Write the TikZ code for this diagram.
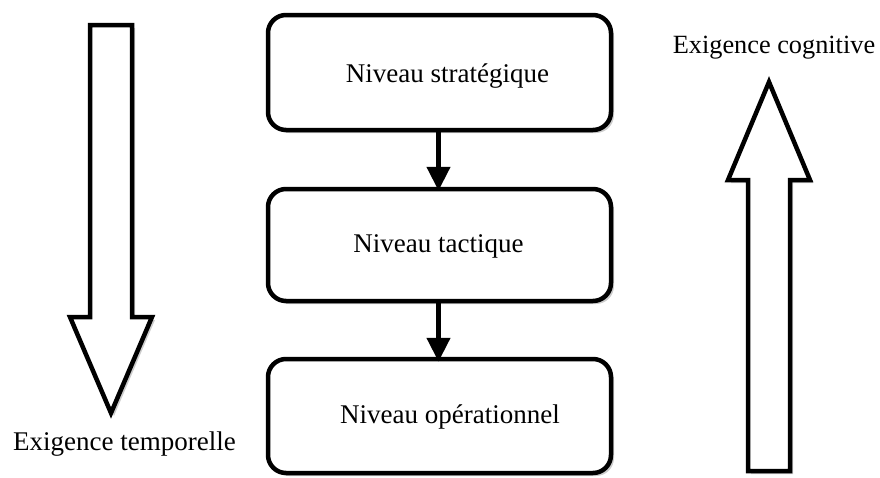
\documentclass[tikz,border=0pt]{standalone}
\usepackage{fontspec}
\setmainfont{Liberation Serif}
\usetikzlibrary{arrows.meta,shadows}
\begin{document}
\begin{tikzpicture}[x=1pt,y=-1pt,
  shadowed/.style={drop shadow={shadow xshift=3pt, shadow yshift=-3pt, opacity=0.2, fill=black}},
  lvl/.style={draw=black, line width=4.5pt, rounded corners=18pt, fill=white,
    minimum width=343pt, inner sep=0pt, shadowed},
  txt/.style={font=\fontsize{27}{32}\selectfont, anchor=base, inner sep=0pt},
  bigarrow/.style={draw=black, line width=4.5pt, fill=white, line join=miter, shadowed},
  conn/.style={line width=4.5pt, -{Triangle[width=23pt,length=24pt]}}]
\useasboundingbox (0,0) rectangle (880,477);

% big arrows
\draw[bigarrow] (90,25) -- (132,25) -- (132,317) -- (152,317) -- (111,413)
  -- (70,317) -- (90,317) -- cycle;
\draw[bigarrow] (748,471) -- (790,471) -- (790,180) -- (810,180) -- (769,82)
  -- (728,180) -- (748,180) -- cycle;

% levels
\node[lvl, minimum height=115pt] (s) at (439.5,72.5) {};
\node[lvl, minimum height=112pt] (t) at (439.5,245) {};
\node[lvl, minimum height=114pt] (o) at (439.5,416) {};

\node[txt] (st) at (447.5,82) {Niveau stratégique};
\node[txt] (tt) at (438.5,252) {Niveau tactique};
\node[txt] (ot) at (450,423) {Niveau opérationnel};

% connectors
\draw[conn] ([xshift=-1pt]s.south) -- ([xshift=-1pt,yshift=-4pt]t.north);
\draw[conn] ([xshift=-1pt]t.south) -- ([xshift=-1pt,yshift=-5pt]o.north);

% labels
\node[txt] (lt) at (124.5,450.7) {Exigence temporelle};
\node[txt, font=\fontsize{26.3}{31}\selectfont] (rt) at (774,53.3) {Exigence cognitive};
\end{tikzpicture}
\end{document}
